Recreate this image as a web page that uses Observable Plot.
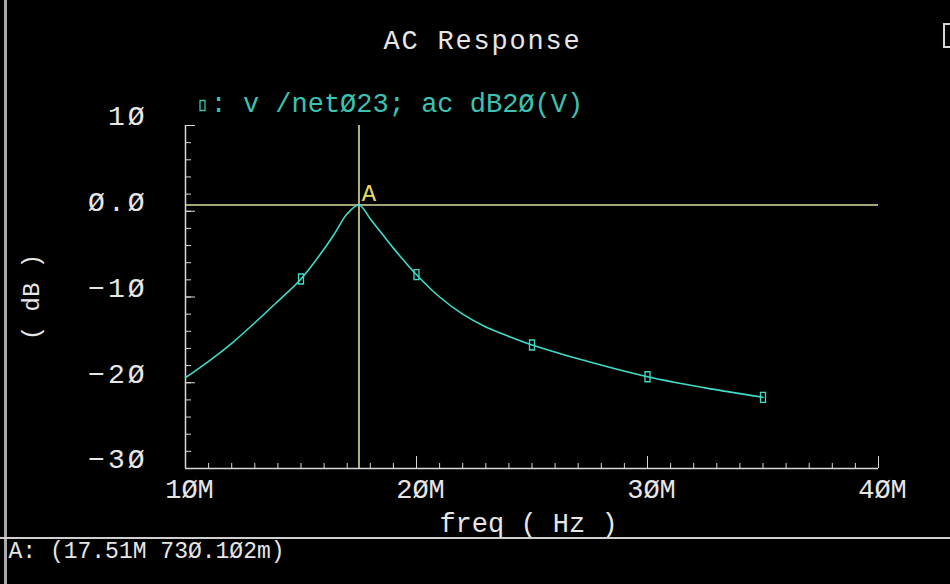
<!DOCTYPE html>
<html><head><meta charset="utf-8">
<script src="https://cdn.jsdelivr.net/npm/d3@7"></script>
<script src="https://cdn.jsdelivr.net/npm/@observablehq/plot@0.6"></script>
<style>
html,body{margin:0;padding:0;background:#000;}
#chart{position:relative;width:950px;height:584px;overflow:hidden;background:#000;}
#chart svg{position:absolute;left:0;top:0;}
.ov{position:absolute;}
</style></head><body><div id="chart"></div>
<script>
// ---- data ----
const title = "AC Response";
const legendText = ": v /netØ23; ac dB2Ø(V)";
const xLabel = "freq ( Hz )";
const yLabel = "( dB )";
const statusText = "A: (17.51M 73Ø.1Ø2m)";
const cursorName = "A";

const freqM  = [10, 11, 12, 13, 14, 15, 16, 16.5, 17, 17.51, 18, 18.5, 19, 19.5, 20, 21, 22, 23, 24, 25, 27, 30, 32.5, 35];
const gainDb = [-19.4, -17.5, -15.4, -13.0, -10.5, -7.9, -4.4, -2.4, -0.3, 0.73, -0.9, -2.6, -4.3, -5.9, -7.4, -10.0, -12.0, -13.5, -14.6, -15.6, -17.2, -19.3, -20.6, -21.7];

const markerFreqM = [15, 20, 25, 30, 35];
const markerDb    = [-7.9, -7.4, -15.6, -19.3, -21.7];

const xTicks = [10, 20, 30, 40];
const xTickLabels = ["1ØM", "2ØM", "3ØM", "4ØM"];
const xMinorTicks = d3.range(10, 41, 1);
const yTicks = [10, 0, -10, -20, -30];
const yTickLabels = ["1Ø", "Ø.Ø", "−1Ø", "−2Ø", "−3Ø"];
const yMinorTicks = d3.range(-30, 11, 2);

const cursorFreqM = 17.51;
const cursorDb = 0.730102;

// ---- styles ----
const CYAN = "#40dcc8";
const TEAL = "#3cc2b2";
const AXIS = "#d8d8d8";
const CROSS = "#dcdca0";
const YELLOW = "#e6dc6a";
const TXT = "#e6e6e6";
const FONT = "Liberation Mono, DejaVu Sans Mono, monospace";

const curve = freqM.map((f, i) => ({f, db: gainDb[i]}));
const markers = markerFreqM.map((f, i) => ({f, db: markerDb[i]}));
const rectSymbol = {draw(ctx) { ctx.moveTo(-2.5, -5); ctx.lineTo(2.5, -5); ctx.lineTo(2.5, 5); ctx.lineTo(-2.5, 5); ctx.closePath(); }};

const mL = 185, mR = 72, mT = 125, mB = 116, W = 950, H = 584;
const cx = (mL + (W - mR)) / 2, cy = (mT + (H - mB)) / 2;

const chart = Plot.plot({
  width: W, height: H,
  marginLeft: mL, marginRight: mR, marginTop: mT, marginBottom: mB,
  style: {background: "transparent", fontFamily: FONT, overflow: "visible"},
  x: {domain: [10, 40]},
  y: {domain: [-30, 10]},
  marks: [
    // axis lines
    Plot.ruleX([10], {stroke: AXIS, strokeWidth: 1.5}),
    Plot.ruleY([-30], {stroke: AXIS, strokeWidth: 1.5}),
    // inward ticks
    Plot.axisY({anchor: "left", ticks: yMinorTicks, tickSize: 6, dx: 6, text: null, label: null, stroke: AXIS}),
    Plot.axisY({anchor: "left", ticks: yTicks, tickSize: 10, dx: 10, text: null, label: null, stroke: AXIS}),
    Plot.axisX({anchor: "bottom", ticks: xMinorTicks, tickSize: 5, dy: -5, text: null, label: null, stroke: AXIS}),
    Plot.axisX({anchor: "bottom", ticks: xTicks, tickSize: 12, dy: -12, text: null, label: null, stroke: AXIS}),
    // tick labels
    Plot.axisY({anchor: "left", ticks: yTicks, tickSize: 0, tickPadding: 38, dy: -9, label: null,
      tickFormat: d => yTickLabels[yTicks.indexOf(d)], fontSize: 28, fill: TXT}),
    Plot.axisX({anchor: "bottom", ticks: xTicks, tickSize: 0, tickPadding: 10, dx: 4, label: null,
      tickFormat: d => xTickLabels[xTicks.indexOf(d)], fontSize: 27, fill: TXT}),
    // crosshair
    Plot.ruleY([cursorDb], {stroke: CROSS, strokeWidth: 1.6}),
    Plot.ruleX([cursorFreqM], {stroke: CROSS, strokeWidth: 1.6}),
    // curve
    Plot.line(curve, {x: "f", y: "db", stroke: CYAN, strokeWidth: 1.6, curve: "catmull-rom"}),
    Plot.dot(markers, {x: "f", y: "db", symbol: rectSymbol, stroke: CYAN, strokeWidth: 1.3, fill: "none"}),
    // cursor label
    Plot.text([cursorName], {x: () => cursorFreqM, y: () => cursorDb, text: d => d, dx: 10, dy: -12,
      fontSize: 24, fill: YELLOW, textAnchor: "middle"}),
    // title
    Plot.text([title], {frameAnchor: "top", text: d => d, dx: 482 - cx, dy: -85, fontSize: 27, fill: TXT,
      lineAnchor: "middle"}),
    // legend
    Plot.dot([0], {frameAnchor: "top-left", dx: 17, dy: -20, symbol: rectSymbol, stroke: TEAL, strokeWidth: 1.3, fill: "none"}),
    Plot.text([legendText], {frameAnchor: "top-left", text: d => d, dx: 25, dy: -22, fontSize: 27, fill: TEAL,
      textAnchor: "start", lineAnchor: "middle"}),
    // axis titles
    Plot.text([xLabel], {frameAnchor: "bottom", text: d => d, dx: 528 - cx, dy: 55, fontSize: 27, fill: TXT,
      lineAnchor: "middle"}),
    Plot.text([yLabel], {frameAnchor: "left", text: d => d, dx: -154, rotate: -90, fontSize: 24, fill: TXT,
      textAnchor: "middle", lineAnchor: "middle"}),
    // status line
    Plot.text([statusText], {frameAnchor: "bottom-left", text: d => d, dx: 8 - mL, dy: 82, fontSize: 23, fill: TXT,
      textAnchor: "start", lineAnchor: "middle"})
  ]
});

// wider letter spacing to match the reference's vector font
d3.select(chart).selectAll("text").each(function () {
  const t = this.textContent;
  if (yTickLabels.includes(t)) this.setAttribute("letter-spacing", "3");
  else if (t === title) this.setAttribute("letter-spacing", "1.8");
});

const host = document.getElementById("chart");
host.appendChild(chart);
function ov(css) { const d = document.createElement("div"); d.className = "ov"; d.style.cssText = css; host.appendChild(d); }
ov("left:4px;top:0;width:3px;height:584px;background:#a9a9a9;");
ov("left:0;top:537px;width:950px;height:2px;background:#cfcfcf;");
ov("left:943px;top:23px;width:14px;height:25px;border:2px solid #d8d8d8;box-sizing:border-box;");
</script></body></html>
